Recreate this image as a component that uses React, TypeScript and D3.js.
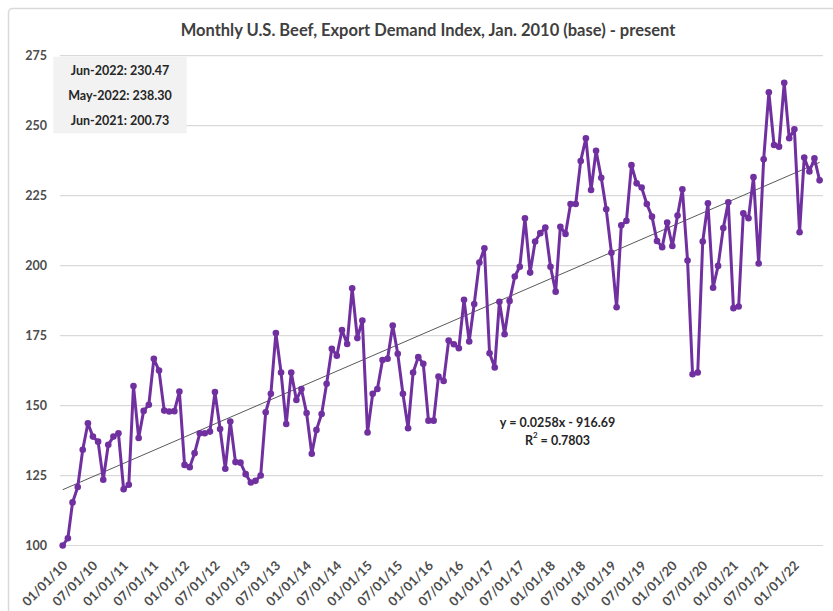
import React, { useMemo } from 'react';
import * as d3 from 'd3';

// Monthly index values, Jan 2010 (=100) through Jun 2022
const indexValues: number[] = [
  // 2010
  100, 102.6, 115.4, 120.9, 134.2, 143.7, 138.9, 137.1, 123.5, 136, 138.9, 140.1,
  // 2011
  120.1, 121.7, 157, 138.4, 148.1, 150.3, 166.7, 162.5, 148.2, 147.9, 148, 155,
  // 2012
  128.8, 128, 133, 140.1, 140.1, 140.7, 154.8, 141.6, 127.4, 144.3, 129.8, 129.6,
  // 2013
  125.5, 122.5, 123.1, 125, 147.6, 154.2, 175.9, 161.8, 143.4, 161.8, 152, 155.9,
  // 2014
  147.3, 132.8, 141.3, 147, 157.8, 170.3, 167.8, 177, 172, 191.9, 174.1, 180.4,
  // 2015
  140.4, 154.2, 155.9, 166.3, 166.7, 178.6, 168.5, 154.2, 141.9, 161.8, 167.3, 164.9,
  // 2016
  144.6, 144.6, 160.4, 158.8, 173.2, 171.9, 170.5, 187.8, 172.9, 186.3, 201.1, 206.2,
  // 2017
  168.7, 163.6, 187.1, 175.5, 187.4, 196.1, 199.6, 216.9, 197.5, 208.6, 211.6, 213.6,
  // 2018
  199.6, 190.7, 213.9, 211.3, 222, 222, 237.4, 245.5, 227, 241, 231.4, 220.1,
  // 2019
  204.6, 185.1, 214.4, 216, 235.9, 229.4, 227.9, 222, 217.5, 208.8, 206.6, 215.4,
  // 2020
  207, 217.9, 227.3, 201.8, 161.2, 161.8, 208.6, 222.3, 192.1, 199.9, 213.4, 222.6,
  // 2021
  184.8, 185.4, 218.7, 216.9, 231.6, 200.73, 238, 261.9, 243.1, 242.5, 265.3, 245.5,
  // 2022
  248.7, 211.9, 238.6, 233.6, 238.3, 230.47,
];

const yTickValues = [100, 125, 150, 175, 200, 225, 250, 275];

const calloutLines = ['Jun-2022: 230.47', 'May-2022: 238.30', 'Jun-2021: 200.73'];

const trendSlope = 0.0258;
const trendIntercept = -916.69;
const trendLabel = 'y = 0.0258x - 916.69';
const r2Label = '0.7803';

const chartTitle = 'Monthly U.S. Beef, Export Demand Index, Jan. 2010 (base) - present';

// Excel date serial (days since 1899-12-30)
const excelSerial = (d: Date) =>
  (Date.UTC(d.getFullYear(), d.getMonth(), d.getDate()) - Date.UTC(1899, 11, 30)) / 86400000;

const App: React.FC = () => {
  const width = 833;
  const height = 611;
  const plotLeft = 60;
  const plotRight = 823;
  const font = 'Lato, "Open Sans", sans-serif';
  const purple = '#7030a0';

  const chart = useMemo(() => {
    const dates = indexValues.map((_, i) => new Date(2010, i, 1));
    const points = indexValues.map((v, i) => ({ date: dates[i], value: v }));

    const x = d3.scaleTime()
      .domain([dates[0], dates[dates.length - 1]])
      .range([62.7, 819.6]);

    const y = d3.scaleLinear()
      .domain([100, 275])
      .range([545.5, 55.7]);

    const line = d3.line<{ date: Date; value: number }>()
      .x(d => x(d.date))
      .y(d => y(d.value));

    const trendAt = (d: Date) => trendSlope * excelSerial(d) + trendIntercept;
    const trendEnds = [dates[0], dates[dates.length - 1]].map(d => ({ date: d, value: trendAt(d) }));

    const xTicks = d3.timeMonth.every(6)!.range(dates[0], new Date(2022, 0, 2));
    const fmt = d3.timeFormat('%m/%d/%y');

    return { x, y, points, path: line(points) || '', trendPath: line(trendEnds) || '', xTicks, fmt };
  }, []);

  const { x, y, points, path, trendPath, xTicks, fmt } = chart;

  return (
    <svg
      width={width}
      height={height}
      viewBox={`0 0 ${width} ${height}`}
      style={{ position: 'absolute', left: 0, top: 0, background: '#fff' }}
      fontFamily={font}
    >
      {/* chart frame */}
      <rect x={8.5} y={8.5} width={900} height={700} fill="#fff" stroke="#d9d9d9" strokeWidth={1.5} rx={4} />

      <text x={428} y={30} textAnchor="middle" dominantBaseline="central" fontSize={16.5} fontWeight={700} fill="#404040">
        {chartTitle}
      </text>

      {/* gridlines + y labels */}
      {yTickValues.map(t => (
        <g key={t}>
          <line x1={plotLeft} x2={plotRight} y1={y(t)} y2={y(t)} stroke="#d9d9d9" strokeWidth={1.2} />
          <text x={47} y={y(t)} textAnchor="end" dominantBaseline="central" fontSize={12.5} fontWeight={700} fill="#4d4d4d">
            {t}
          </text>
        </g>
      ))}

      {/* x labels */}
      {xTicks.map(d => (
        <text
          key={d.getTime()}
          transform={`translate(${x(d) + 2}, ${563}) rotate(-45)`}
          textAnchor="end"
          dominantBaseline="central"
          fontSize={13}
          fontWeight={700}
          fill="#4d4d4d"
        >
          {fmt(d)}
        </text>
      ))}

      {/* callout box */}
      <rect x={53.3} y={56.7} width={133.4} height={76.6} fill="#f2f2f2" />
      {calloutLines.map((s, i) => (
        <text key={s} x={120} y={70 + i * 25} textAnchor="middle" dominantBaseline="central" fontSize={12.5} fontWeight={700} fill="#262626">
          {s}
        </text>
      ))}

      {/* trendline */}
      <path d={trendPath} fill="none" stroke="#595959" strokeWidth={1} />

      {/* series */}
      <path d={path} fill="none" stroke={purple} strokeWidth={3} strokeLinejoin="round" />
      {points.map((p, i) => (
        <circle key={i} cx={x(p.date)} cy={y(p.value)} r={3.3} fill={purple} />
      ))}

      {/* regression label */}
      <text x={557.5} y={422} textAnchor="middle" dominantBaseline="central" fontSize={12.5} fontWeight={700} fill="#262626">
        {trendLabel}
      </text>
      <text x={557.5} y={440} textAnchor="middle" dominantBaseline="central" fontSize={12.5} fontWeight={700} fill="#262626">
        R<tspan fontSize={8} dy={-5}>2</tspan><tspan dy={5}>{` = ${r2Label}`}</tspan>
      </text>
    </svg>
  );
};

export default App;
